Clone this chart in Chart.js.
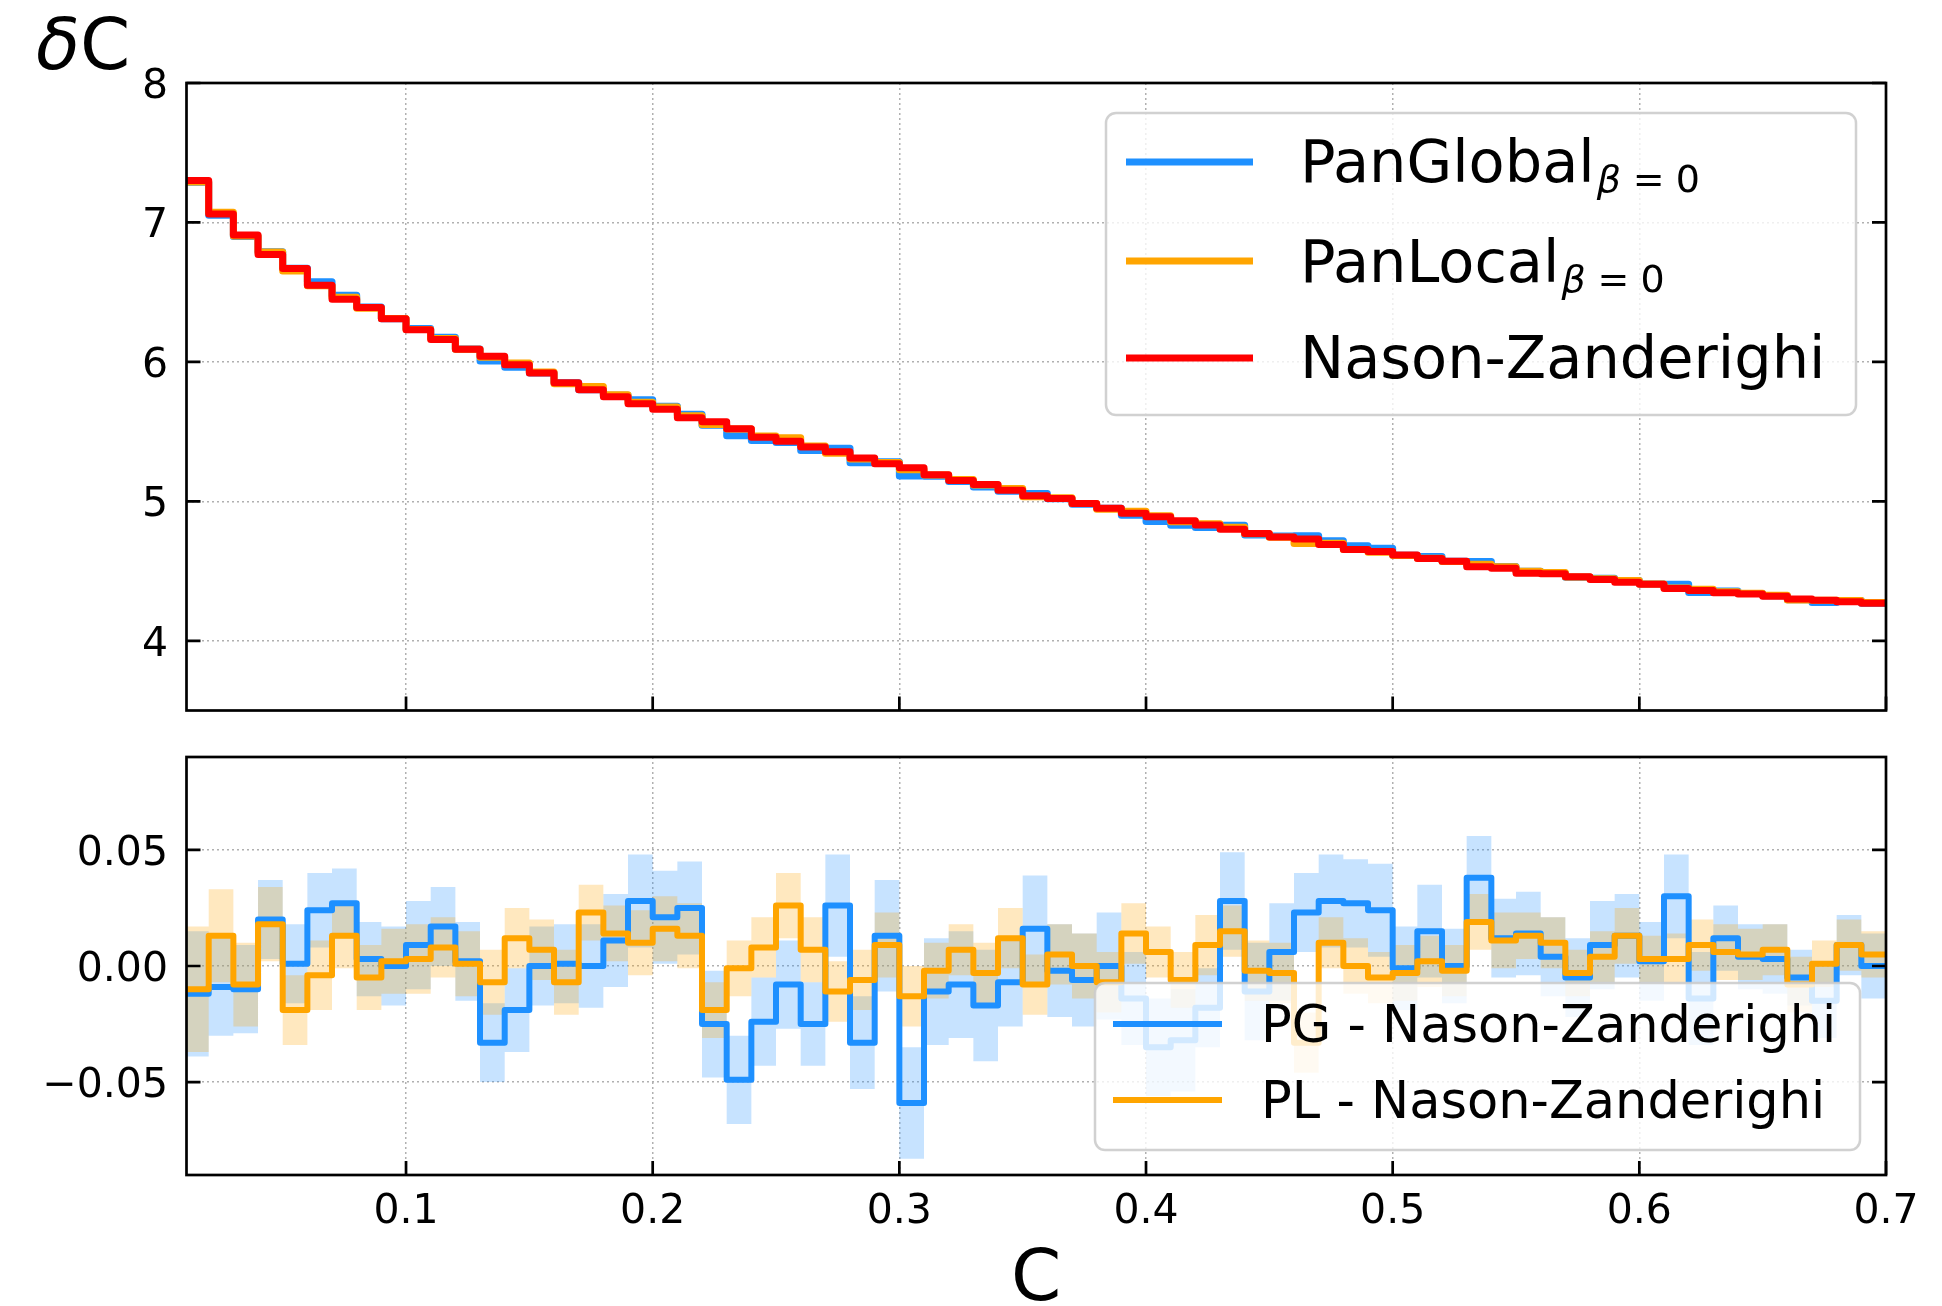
<!DOCTYPE html>
<html>
<head>
<meta charset="utf-8">
<script src="https://cdn.jsdelivr.net/npm/chart.js@4.4.1/dist/chart.umd.min.js"></script>
<style>
  html, body { margin: 0; padding: 0; background: #fff; }
  #wrap { position: relative; width: 1942px; height: 1306px; }
  canvas { position: absolute; left: 0; }
</style>
</head>
<body>
<div id="wrap">
  <canvas id="top-chart" width="1942" height="740" style="top:0px"></canvas>
  <canvas id="ratio-chart" width="1942" height="566" style="top:740px"></canvas>
</div>
<script>
// bin edges (C), 0.01 wide bins
const binEdges = [0.01, 0.02, 0.03, 0.04, 0.05, 0.06, 0.07, 0.08, 0.09, 0.10,
  0.11, 0.12, 0.13, 0.14, 0.15, 0.16, 0.17, 0.18, 0.19, 0.20,
  0.21, 0.22, 0.23, 0.24, 0.25, 0.26, 0.27, 0.28, 0.29, 0.30,
  0.31, 0.32, 0.33, 0.34, 0.35, 0.36, 0.37, 0.38, 0.39, 0.40,
  0.41, 0.42, 0.43, 0.44, 0.45, 0.46, 0.47, 0.48, 0.49, 0.50,
  0.51, 0.52, 0.53, 0.54, 0.55, 0.56, 0.57, 0.58, 0.59, 0.60,
  0.61, 0.62, 0.63, 0.64, 0.65, 0.66, 0.67, 0.68, 0.69, 0.70];

const xTicks = [0.1, 0.2, 0.3, 0.4, 0.5, 0.6, 0.7];
const topYTicks = [4, 5, 6, 7, 8];
const ratioYTicks = [-0.05, 0, 0.05];

// top panel: delta C per bin
const nzTop = [7.30, 7.06, 6.91, 6.77, 6.67, 6.55, 6.45, 6.39, 6.31, 6.23,
  6.16, 6.09, 6.04, 5.98, 5.92, 5.85, 5.80, 5.75, 5.70, 5.66,
  5.60, 5.57, 5.52, 5.46, 5.43, 5.39, 5.355, 5.31, 5.27, 5.24,
  5.19, 5.15, 5.12, 5.08, 5.04, 5.02, 4.985, 4.95, 4.915, 4.89,
  4.86, 4.83, 4.80, 4.77, 4.745, 4.73, 4.69, 4.655, 4.64, 4.615,
  4.59, 4.57, 4.53, 4.52, 4.485, 4.48, 4.46, 4.44, 4.42, 4.405,
  4.375, 4.36, 4.345, 4.335, 4.32, 4.30, 4.29, 4.28, 4.27];
const pgTop = [7.288, 7.051, 6.900, 6.790, 6.671, 6.574, 6.477, 6.393, 6.310, 6.239,
  6.177, 6.092, 6.007, 5.961, 5.920, 5.851, 5.800, 5.761, 5.728, 5.681,
  5.625, 5.545, 5.471, 5.436, 5.422, 5.365, 5.381, 5.277, 5.283, 5.181,
  5.179, 5.142, 5.103, 5.073, 5.056, 5.018, 4.979, 4.950, 4.901, 4.855,
  4.828, 4.812, 4.828, 4.759, 4.751, 4.753, 4.718, 4.682, 4.664, 4.614,
  4.605, 4.570, 4.568, 4.532, 4.499, 4.484, 4.455, 4.449, 4.433, 4.407,
  4.405, 4.346, 4.357, 4.339, 4.323, 4.295, 4.275, 4.289, 4.270];
const plTop = [7.290, 7.073, 6.902, 6.788, 6.651, 6.546, 6.463, 6.385, 6.312, 6.233,
  6.168, 6.091, 6.033, 5.992, 5.927, 5.843, 5.823, 5.764, 5.710, 5.676,
  5.613, 5.551, 5.519, 5.468, 5.456, 5.397, 5.344, 5.304, 5.279, 5.227,
  5.188, 5.157, 5.117, 5.092, 5.032, 5.025, 4.985, 4.943, 4.929, 4.896,
  4.854, 4.839, 4.815, 4.768, 4.742, 4.697, 4.700, 4.655, 4.635, 4.612,
  4.592, 4.568, 4.549, 4.531, 4.498, 4.490, 4.457, 4.444, 4.433, 4.408,
  4.378, 4.369, 4.351, 4.340, 4.327, 4.292, 4.291, 4.289, 4.275];

// bottom panel: differences to Nason-Zanderighi and their errors
const pgDiff = [-0.012, -0.009, -0.010, 0.020, 0.001, 0.024, 0.027, 0.003, 0.000, 0.009,
  0.017, 0.002, -0.033, -0.019, 0.000, 0.001, 0.000, 0.011, 0.028, 0.021,
  0.025, -0.025, -0.049, -0.024, -0.008, -0.025, 0.026, -0.033, 0.013, -0.059,
  -0.011, -0.008, -0.017, -0.007, 0.016, -0.002, -0.006, 0.000, -0.014, -0.035,
  -0.032, -0.018, 0.028, -0.011, 0.006, 0.023, 0.028, 0.027, 0.024, -0.001,
  0.015, 0.000, 0.038, 0.012, 0.014, 0.004, -0.005, 0.009, 0.013, 0.002,
  0.030, -0.014, 0.012, 0.004, 0.003, -0.005, -0.015, 0.009, 0.000];
const plDiff = [-0.010, 0.013, -0.008, 0.018, -0.019, -0.004, 0.013, -0.005, 0.002, 0.003,
  0.008, 0.001, -0.007, 0.012, 0.007, -0.007, 0.023, 0.014, 0.010, 0.016,
  0.013, -0.019, -0.001, 0.008, 0.026, 0.007, -0.011, -0.006, 0.009, -0.013,
  -0.002, 0.007, -0.003, 0.012, -0.008, 0.005, 0.000, -0.007, 0.014, 0.006,
  -0.006, 0.009, 0.015, -0.002, -0.003, -0.033, 0.010, 0.000, -0.005, -0.003,
  0.002, -0.002, 0.019, 0.011, 0.013, 0.010, -0.003, 0.004, 0.013, 0.003,
  0.003, 0.009, 0.006, 0.005, 0.007, -0.008, 0.001, 0.009, 0.005];
const pgErr = [0.027, 0.021, 0.019, 0.017, 0.017, 0.016, 0.015, 0.016, 0.017, 0.019,
  0.017, 0.017, 0.017, 0.018, 0.017, 0.017, 0.018, 0.020, 0.020, 0.020,
  0.020, 0.023, 0.019, 0.019, 0.019, 0.018, 0.022, 0.020, 0.024, 0.024,
  0.023, 0.023, 0.024, 0.019, 0.023, 0.020, 0.020, 0.023, 0.020, 0.021,
  0.022, 0.017, 0.021, 0.021, 0.021, 0.017, 0.020, 0.019, 0.020, 0.018,
  0.020, 0.016, 0.018, 0.017, 0.018, 0.017, 0.017, 0.019, 0.018, 0.017,
  0.018, 0.020, 0.014, 0.014, 0.015, 0.012, 0.016, 0.013, 0.014];
const plErr = [0.027, 0.020, 0.018, 0.016, 0.015, 0.015, 0.014, 0.014, 0.014, 0.015,
  0.013, 0.014, 0.014, 0.013, 0.013, 0.014, 0.012, 0.012, 0.014, 0.014,
  0.014, 0.012, 0.012, 0.013, 0.014, 0.014, 0.013, 0.013, 0.014, 0.013,
  0.012, 0.011, 0.013, 0.013, 0.013, 0.013, 0.014, 0.013, 0.013, 0.011,
  0.012, 0.013, 0.011, 0.013, 0.013, 0.013, 0.011, 0.012, 0.011, 0.012,
  0.011, 0.011, 0.012, 0.012, 0.010, 0.011, 0.010, 0.011, 0.012, 0.010,
  0.011, 0.011, 0.012, 0.011, 0.011, 0.012, 0.010, 0.011, 0.010];

const topLabels = ["PanGlobal", "PanLocal", "Nason-Zanderighi"];
const topLabelSubs = ["β = 0", "β = 0", ""];
const ratioLabels = ["PG - Nason-Zanderighi", "PL - Nason-Zanderighi"];

const BLUE = "#1e90ff";
const ORANGE = "#ffa500";
const RED = "#ff0000";
const FONT = '"DejaVu Sans"';

// histogram-like steps: value i holds from edge i to edge i+1
function stepPoints(values) {
    const pts = values.map((v, i) => ({ x: binEdges[i], y: v }));
    pts.push({ x: binEdges[values.length], y: values[values.length - 1] });
    return pts;
}

function stepLine(label, values, color, width, order) {
    return {
        label: label, data: stepPoints(values), borderColor: color, borderWidth: width,
        stepped: true, fill: false, pointRadius: 0, pointHoverRadius: 0,
        borderJoinStyle: "round", order: order
    };
}

function band(values, errs, sign, color, order, fill) {
    return {
        label: "", data: stepPoints(values.map((v, i) => v + sign * errs[i])),
        borderColor: "transparent", borderWidth: 0, backgroundColor: color,
        stepped: true, fill: fill, pointRadius: 0, pointHoverRadius: 0, order: order
    };
}

function fmtRatio(v) {
    if (Math.abs(v) < 1e-9) return "0.00";
    const s = Math.abs(v).toFixed(2);
    return v < 0 ? "\u2212" + s : s;
}

function drawFrame(chart, cfg) {
    const ctx = chart.ctx;
    const a = chart.chartArea;
    const x = chart.scales.x, y = chart.scales.y;
    ctx.save();
    ctx.strokeStyle = "#000";
    ctx.lineWidth = 2.7;
    ctx.beginPath();
    cfg.yTicks.forEach(v => {
        const py = y.getPixelForValue(v);
        ctx.moveTo(a.left, py); ctx.lineTo(a.left + 14, py);
        ctx.moveTo(a.right, py); ctx.lineTo(a.right - 14, py);
    });
    xTicks.forEach(v => {
        const px = x.getPixelForValue(v);
        ctx.moveTo(px, a.bottom); ctx.lineTo(px, a.bottom - 14);
    });
    ctx.stroke();
    ctx.lineJoin = "miter";
    ctx.strokeRect(a.left, a.top, a.right - a.left, a.bottom - a.top);

    ctx.fillStyle = "#000";
    ctx.font = "41px " + FONT;
    ctx.textAlign = "right";
    ctx.textBaseline = "alphabetic";
    cfg.yTicks.forEach(v => {
        ctx.fillText(cfg.yFormat(v), a.left - 18.5, y.getPixelForValue(v) + 15);
    });
    if (cfg.xLabels) {
        ctx.textAlign = "center";
        xTicks.forEach(v => {
            ctx.fillText(v.toFixed(1), x.getPixelForValue(v), a.bottom + 48);
        });
    }
    ctx.restore();
}

function drawLegend(chart, lg) {
    const ctx = chart.ctx;
    ctx.save();
    ctx.beginPath();
    ctx.roundRect(lg.x, lg.y, lg.w, lg.h, 10);
    ctx.fillStyle = "rgba(255,255,255,0.8)";
    ctx.fill();
    ctx.lineWidth = 2.5;
    ctx.strokeStyle = "rgba(204,204,204,0.9)";
    ctx.stroke();
    lg.rows.forEach(row => {
        const ds = chart.data.datasets[row.index];
        ctx.beginPath();
        ctx.moveTo(lg.lineX0, row.y);
        ctx.lineTo(lg.lineX1, row.y);
        ctx.lineWidth = ds.borderWidth;
        ctx.strokeStyle = ds.borderColor;
        ctx.lineCap = "butt";
        ctx.stroke();
        ctx.fillStyle = "#000";
        ctx.textAlign = "left";
        ctx.textBaseline = "alphabetic";
        ctx.font = lg.fontSize + "px " + FONT;
        ctx.fillText(ds.label, lg.textX, row.base);
        if (row.sub) {
            const sx = lg.textX + ctx.measureText(ds.label).width + 2;
            const parts = row.sub.split(" ");
            const offs = [0, 36, 79];
            parts.forEach((p, k) => {
                ctx.font = (k === 0 ? "italic " : "") + "38px " + FONT;
                ctx.fillText(p, sx + offs[k], row.base + 10);
            });
        }
    });
    ctx.restore();
}

function decor(cfg) {
    return {
        id: "decor",
        afterDatasetsDraw(chart) { drawLegend(chart, cfg.legend); },
        afterDraw(chart) {
            drawFrame(chart, cfg);
            if (cfg.extra) cfg.extra(chart.ctx, chart);
        }
    };
}

function scalesFor(yMin, yMax, yTicks, xHeight) {
    const grid = { color: "#b0b0b0", lineWidth: 1.5, drawTicks: false };
    return {
        x: {
            type: "linear", min: 0.011, max: 0.7,
            ticks: { display: false },
            grid: grid,
            border: { display: false, dash: [2, 3] },
            afterBuildTicks: s => { s.ticks = xTicks.map(v => ({ value: v })); },
            afterFit: s => { s.height = xHeight; }
        },
        y: {
            type: "linear", min: yMin, max: yMax,
            ticks: { display: false },
            grid: grid,
            border: { display: false, dash: [2, 3] },
            afterBuildTicks: s => { s.ticks = yTicks.map(v => ({ value: v })); },
            afterFit: s => { s.width = 186.5; }
        }
    };
}

// top panel
new Chart(document.getElementById("top-chart").getContext("2d"), {
    type: "line",
    data: {
        datasets: [
            stepLine(topLabels[0], pgTop, BLUE, 7, 3),
            stepLine(topLabels[1], plTop, ORANGE, 7, 2),
            stepLine(topLabels[2], nzTop, RED, 7, 1)
        ]
    },
    options: {
        responsive: false, animation: false, events: [],
        layout: { padding: { left: 0, right: 56, top: 83, bottom: 0 } },
        scales: scalesFor(3.5, 8, topYTicks, 29.5),
        plugins: { legend: { display: false }, tooltip: { enabled: false } }
    },
    plugins: [decor({
        yTicks: topYTicks,
        yFormat: v => String(v),
        xLabels: false,
        legend: {
            x: 1106, y: 113, w: 750, h: 302, lineX0: 1126, lineX1: 1253, textX: 1300, fontSize: 59,
            rows: [
                { index: 0, y: 162, base: 182, sub: topLabelSubs[0] },
                { index: 1, y: 261, base: 282, sub: topLabelSubs[1] },
                { index: 2, y: 358, base: 378, sub: topLabelSubs[2] }
            ]
        },
        extra: ctx => {
            ctx.save();
            ctx.fillStyle = "#000";
            ctx.textBaseline = "alphabetic";
            ctx.font = "italic 72px " + FONT;
            ctx.fillText("δ", 36, 69);
            const w = ctx.measureText("δ").width;
            ctx.font = "72px " + FONT;
            ctx.fillText("C", 36 + w, 69);
            ctx.restore();
        }
    })]
});

// bottom panel
new Chart(document.getElementById("ratio-chart").getContext("2d"), {
    type: "line",
    data: {
        datasets: [
            band(pgDiff, pgErr, 1, "rgba(30,144,255,0.25)", 10, "+1"),
            band(pgDiff, pgErr, -1, "rgba(30,144,255,0.25)", 10, false),
            band(plDiff, plErr, 1, "rgba(255,165,0,0.25)", 9, "+1"),
            band(plDiff, plErr, -1, "rgba(255,165,0,0.25)", 9, false),
            stepLine(ratioLabels[0], pgDiff, BLUE, 6, 2),
            stepLine(ratioLabels[1], plDiff, ORANGE, 6, 1)
        ]
    },
    options: {
        responsive: false, animation: false, events: [],
        layout: { padding: { left: 0, right: 56, top: 17, bottom: 0 } },
        scales: scalesFor(-0.09, 0.09, ratioYTicks, 131),
        plugins: {
            legend: { display: false }, tooltip: { enabled: false },
            filler: { drawTime: "beforeDatasetsDraw" }
        }
    },
    plugins: [decor({
        yTicks: ratioYTicks,
        yFormat: fmtRatio,
        xLabels: true,
        legend: {
            x: 1095, y: 243, w: 765, h: 167, lineX0: 1113, lineX1: 1222, textX: 1261, fontSize: 51,
            rows: [
                { index: 4, y: 284, base: 302 },
                { index: 5, y: 360, base: 378 }
            ]
        },
        extra: (ctx, chart) => {
            const a = chart.chartArea;
            ctx.save();
            ctx.fillStyle = "#000";
            ctx.textAlign = "center";
            ctx.textBaseline = "alphabetic";
            ctx.font = "72px " + FONT;
            ctx.fillText("C", (a.left + a.right) / 2, 560);
            ctx.restore();
        }
    })]
});
</script>
</body>
</html>
